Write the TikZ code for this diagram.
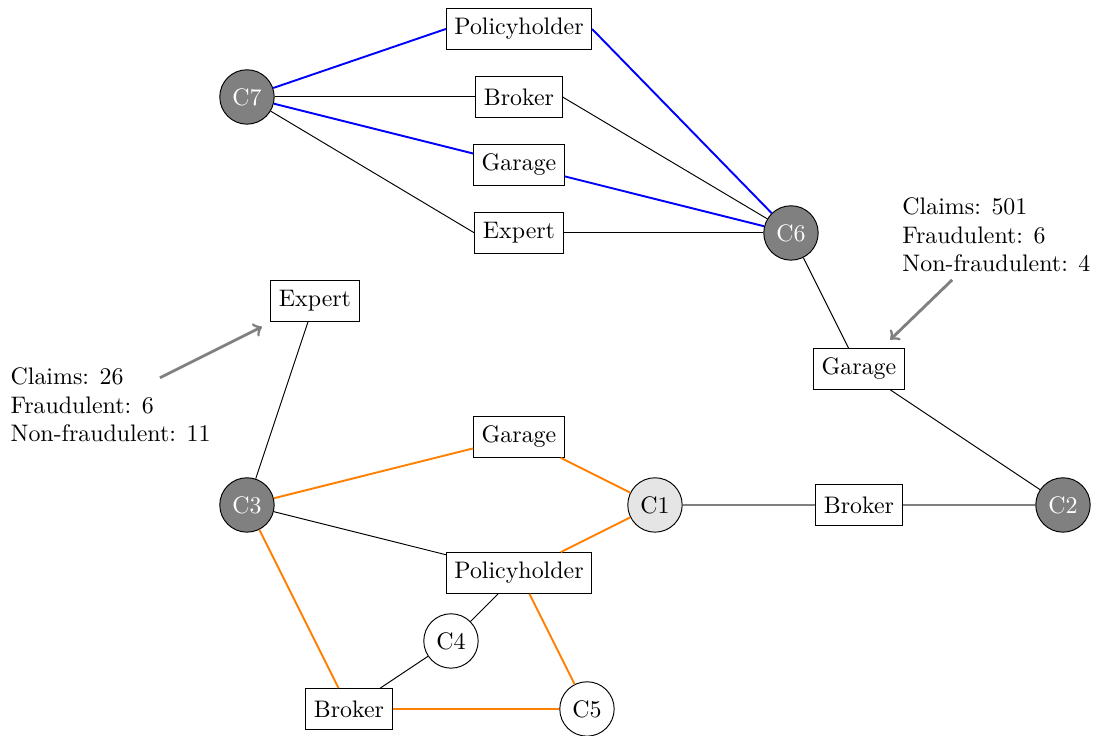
\documentclass[tikz,border=0pt]{standalone}
\begin{document}
\begin{tikzpicture}[
  ent/.style={draw, rectangle, fill=white, minimum height=0.6cm},
  dark/.style={draw, circle, minimum size=0.8cm, inner sep=1pt, fill=gray, text=white},
  light/.style={draw, circle, minimum size=0.8cm, inner sep=1pt, fill=gray!20},
  plain/.style={draw, circle, minimum size=0.8cm, inner sep=1pt, fill=white},
  blueedge/.style={blue, thick},
  orangeedge/.style={orange, thick},
  grayedge/.style={gray, thick},
  thinedge/.style={black, thin},
  note/.style={align=left, anchor=west},
  pointer/.style={gray, very thick, ->}
]
\useasboundingbox (-3.632,-3.397) rectangle (12.456,7.426);
% nodes
\node[dark] (c7) at (0,6) {C7};
\node[ent] (ph1) at (4,7) {Policyholder};
\node[ent] (br1) at (4,6) {Broker};
\node[ent] (ga1) at (4,5) {Garage};
\node[ent] (ex1) at (4,4) {Expert};
\node[dark] (c6) at (8,4) {C6};
\node[ent] (ga2) at (9,2) {Garage};
\node[dark] (c2) at (12,0) {C2};
\node[ent] (br2) at (9,0) {Broker};
\node[light] (c1) at (6,0) {C1};
\node[ent] (ga3) at (4,1) {Garage};
\node[ent] (ph2) at (4,-1) {Policyholder};
\node[dark] (c3) at (0,0) {C3};
\node[ent] (ex2) at (1,3) {Expert};
\node[plain] (c4) at (3,-2) {C4};
\node[plain] (c5) at (5,-3) {C5};
\node[ent] (br3) at (1.5,-3) {Broker};
% edges
\draw[blueedge] (c7) -- (ph1.west);
\draw[thinedge] (c7) -- (br1.west);
\draw[blueedge] (c7) -- (ga1);
\draw[thinedge] (c7) -- (ex1.west);
\draw[blueedge] (ph1.east) -- (c6);
\draw[thinedge] (br1.east) -- (c6);
\draw[blueedge] (ga1) -- (c6);
\draw[thinedge] (ex1.east) -- (c6);
\draw[thinedge] (c6) -- (ga2);
\draw[thinedge] (ga2) -- (c2);
\draw[grayedge] (c2) -- (br2);
\draw[grayedge] (br2) -- (c1);
\draw[thinedge] (c3) -- (ex2);
\draw[orangeedge] (c3) -- (ga3);
\draw[orangeedge] (ga3) -- (c1);
\draw[orangeedge] (c1) -- (ph2);
\draw[thinedge] (c3) -- (ph2);
\draw[orangeedge] (c3) -- (br3);
\draw[thinedge] (ph2) -- (c4);
\draw[thinedge] (c4) -- (br3);
\draw[orangeedge] (ph2) -- (c5);
\draw[orangeedge] (br3) -- (c5);
% notes
\node[note] (n1) at (-3.60,1.47) {Claims: 26\\Fraudulent: 6\\Non-fraudulent: 11};
\node[note] (n2) at (9.515,3.97) {Claims: 501\\Fraudulent: 6\\Non-fraudulent: 4};
\coordinate (a1s) at (-1.28,1.87);
\coordinate (a1e) at (0.22,2.62);
\coordinate (a2s) at (10.37,3.31);
\coordinate (a2e) at (9.46,2.43);
\draw[pointer] (a1s) -- (a1e);
\draw[pointer] (a2s) -- (a2e);
\end{tikzpicture}
\end{document}
